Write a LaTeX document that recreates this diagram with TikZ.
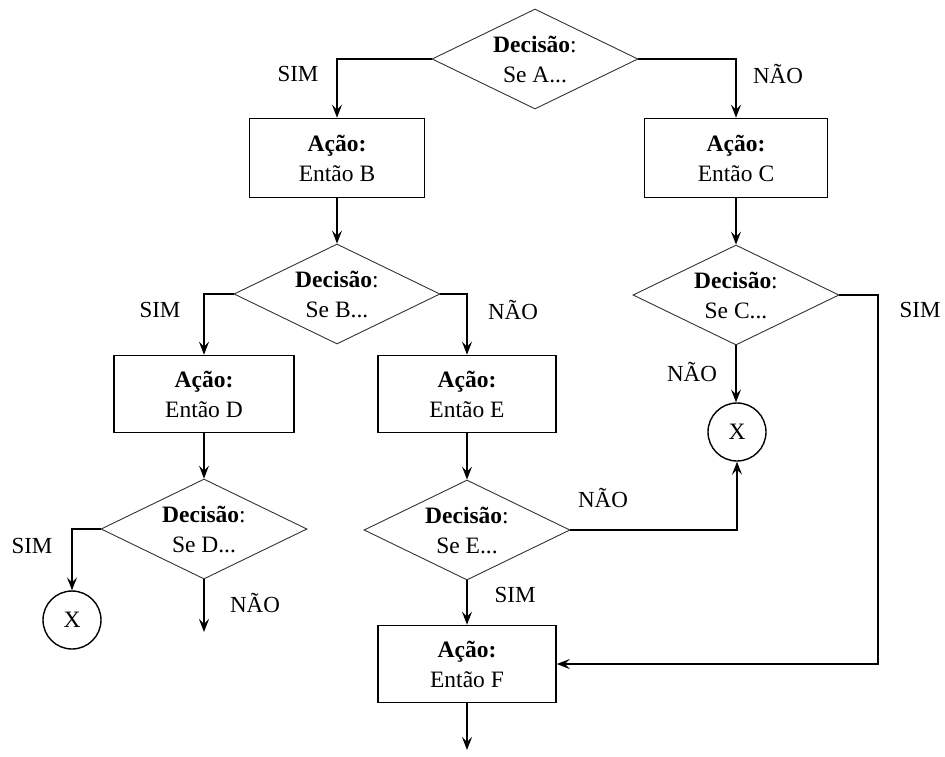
\documentclass[tikz,border=0pt]{standalone}
\usepackage{fontspec}
\setmainfont{Liberation Serif}
\usetikzlibrary{shapes.geometric,arrows.meta}
\begin{document}
\begin{tikzpicture}[x=1pt,y=-1pt,
  font=\fontsize{23.5}{30}\selectfont,
  actionbox/.style={draw,line width=1.6pt,align=center,inner sep=0pt,minimum height=79pt},
  decision/.style={draw,diamond,line width=0.9pt,draw=black!80,align=center,inner sep=0pt,
    aspect=2.06,minimum width=206pt,minimum height=100pt},
  endcircle/.style={draw,circle,line width=1.4pt,minimum size=58pt,inner sep=0pt},
  arr/.style={line width=1.5pt,-{Stealth[length=13pt,width=10pt,inset=5pt]}},
  branch/.style={font=\fontsize{23}{27}\selectfont}]
\useasboundingbox (0,0) rectangle (945,756);

% decision and action nodes
\node[decision] (dA) at (535,59) {\textbf{Decisão}:\\Se A...};
\node[actionbox,minimum width=175pt] (bB) at (337,158) {\textbf{Ação:}\\Então B};
\node[actionbox,minimum width=183pt] (bC) at (736,158) {\textbf{Ação:}\\Então C};
\node[decision] (dB) at (337,294) {\textbf{Decisão}:\\Se B...};
\node[decision] (dC) at (736,295) {\textbf{Decisão}:\\Se C...};
\node[actionbox,minimum width=180pt,minimum height=77pt] (bD) at (204,394) {\textbf{Ação:}\\Então D};
\node[actionbox,minimum width=178pt,minimum height=77pt] (bE) at (467,394) {\textbf{Ação:}\\Então E};
\node[endcircle] (xC) at (737,432) {X};
\node[decision] (dD) at (204,529) {\textbf{Decisão}:\\Se D...};
\node[decision] (dE) at (467,530) {\textbf{Decisão}:\\Se E...};
\node[endcircle] (xD) at (72,620) {X};
\node[actionbox,minimum width=178pt,minimum height=77pt] (bF) at (467,664) {\textbf{Ação:}\\Então F};

% free ends and routing points
\coordinate (endD) at (204,632);
\coordinate (endF) at (467,750);
\coordinate (simC) at (878,0);

% connectors
\draw[arr] (dA.west) -| (bB.north);
\draw[arr] (dA.east) -| (bC.north);
\draw[arr] (bB.south) -- (dB.north);
\draw[arr] (bC.south) -- (dC.north);
\draw[arr] (dB.west) -| (bD.north);
\draw[arr] (dB.east) -| (bE.north);
\draw[arr] (dC.south) -- (dC.south |- xC.north);
\draw[arr] (dC.east) -- (dC.east -| simC) |- (bF.east);
\draw[arr] (bD.south) -- (dD.north);
\draw[arr] (bE.south) -- (dE.north);
\draw[arr] (dD.west) -| (xD.north);
\draw[arr] (dD.south) -- (endD);
\draw[arr] (dE.east) -| (xC.south);
\draw[arr] (dE.south) -- (bF.north);
\draw[arr] (bF.south) -- (endF);

% branch labels
\node[branch] (lA1) at (298,74) {SIM};
\node[branch] (lA2) at (778,74) {NÃO};
\node[branch] (lB1) at (160,310) {SIM};
\node[branch] (lB2) at (513,310) {NÃO};
\node[branch] (lC1) at (920,310) {SIM};
\node[branch] (lC2) at (692,372) {NÃO};
\node[branch] (lD1) at (32,546) {SIM};
\node[branch] (lD2) at (255,603) {NÃO};
\node[branch] (lE1) at (603,498) {NÃO};
\node[branch] (lE2) at (515,595) {SIM};
\end{tikzpicture}
\end{document}
